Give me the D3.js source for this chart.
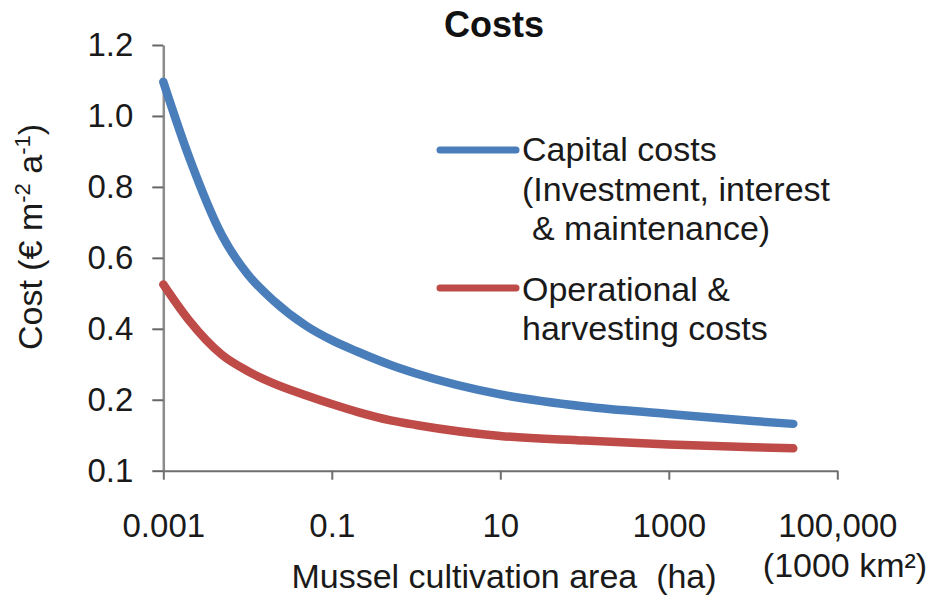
<!DOCTYPE html>
<html>
<head>
<meta charset="utf-8">
<script src="https://cdn.jsdelivr.net/npm/d3@7"></script>
<style>
  body { margin: 0; background: #fff; }
  svg { display: block; font-family: "Liberation Sans", Arial, sans-serif; }
</style>
</head>
<body>
<div class="container"></div>
<script>
var areas = [0.001, 0.002, 0.005, 0.01, 0.02, 0.05, 0.1, 0.2, 0.5, 1, 10, 100, 1000, 10000, 30000];
// cost (EUR m-2 a-1)
var capitalCosts = [1.096, 0.887, 0.662, 0.554, 0.481, 0.408, 0.368, 0.336, 0.298, 0.274, 0.215, 0.181, 0.160, 0.140, 0.132];
var operationalCosts = [0.525, 0.425, 0.326, 0.281, 0.247, 0.212, 0.188, 0.166, 0.142, 0.129, 0.098, 0.085, 0.074, 0.066, 0.063];

var xTicks = [0.001, 0.1, 10, 1000, 100000];
var xTickLabels = ["0.001", "0.1", "10", "1000", "100,000"];
var yTicks = [0, 0.2, 0.4, 0.6, 0.8, 1.0, 1.2];
var yTickLabels = ["0.1", "0.2", "0.4", "0.6", "0.8", "1.0", "1.2"];

var width = 932, height = 595;
var blue = "#4a7ebb", red = "#be4b48";

var svg = d3.select(".container")
  .append("svg")
    .attr("width", width)
    .attr("height", height);

var x = d3.scaleLog()
  .domain([0.001, 100000])
  .range([163.3, 837.3]);

var y = d3.scaleLinear()
  .domain([0, 1.2])
  .range([470.7, 45]);

// title
svg.append("text")
  .attr("x", 494)
  .attr("y", 37)
  .attr("text-anchor", "middle")
  .style("font-size", "36px")
  .style("font-weight", "bold")
  .attr("fill", "#111")
  .text("Costs");

// y axis
var yAxis = svg.append("g")
  .attr("transform", "translate(" + x(0.001) + ",0)")
  .call(d3.axisLeft(y)
    .tickValues(yTicks)
    .tickFormat(function(d, i) { return yTickLabels[i]; })
    .tickSize(11)
    .tickSizeOuter(0)
    .tickPadding(19));
yAxis.select(".domain").attr("stroke", "#8c8c8c").attr("stroke-width", 2.5);
yAxis.selectAll(".tick line").attr("stroke", "#666").attr("stroke-width", 2);
yAxis.selectAll(".tick text")
  .style("font-size", "33px")
  .attr("fill", "#1a1a1a");

// x axis
var xAxis = svg.append("g")
  .attr("transform", "translate(0," + y(0) + ")")
  .call(d3.axisBottom(x)
    .tickValues(xTicks)
    .tickFormat(function(d, i) { return xTickLabels[i]; })
    .tickSize(9)
    .tickSizeOuter(0)
    .tickPadding(34));
xAxis.select(".domain").attr("stroke", "#6e6e6e").attr("stroke-width", 2);
xAxis.selectAll(".tick line").attr("stroke", "#6e6e6e").attr("stroke-width", 2);
xAxis.selectAll(".tick text")
  .style("font-size", "33px")
  .attr("fill", "#1a1a1a");

// axis titles
svg.append("text")
  .attr("x", 504)
  .attr("y", 588)
  .attr("text-anchor", "middle")
  .style("font-size", "34px")
  .attr("fill", "#1a1a1a")
  .attr("xml:space", "preserve")
  .text("Mussel cultivation area  (ha)");

svg.append("text")
  .attr("x", 845)
  .attr("y", 577)
  .attr("text-anchor", "middle")
  .style("font-size", "34px")
  .attr("fill", "#1a1a1a")
  .text("(1000 km\u00b2)");

var yTitle = svg.append("text")
  .attr("transform", "translate(42,237) rotate(-90)")
  .attr("text-anchor", "middle")
  .style("font-size", "34px")
  .attr("fill", "#1a1a1a");
yTitle.append("tspan").text("Cost (\u20ac m");
yTitle.append("tspan").attr("dy", -12).style("font-size", "22px").text("-2");
yTitle.append("tspan").attr("dy", 12).text(" a");
yTitle.append("tspan").attr("dy", -12).style("font-size", "22px").text("-1");
yTitle.append("tspan").attr("dy", 12).text(")");

// curves
var line = d3.line()
  .x(function(d) { return x(d[0]); })
  .y(function(d) { return y(d[1]); })
  .curve(d3.curveMonotoneX);

[[capitalCosts, blue], [operationalCosts, red]].forEach(function(s) {
  svg.append("path")
    .datum(areas.map(function(a, i) { return [a, s[0][i]]; }))
    .attr("fill", "none")
    .attr("stroke", s[1])
    .attr("stroke-width", 8.5)
    .attr("stroke-linecap", "round")
    .attr("stroke-linejoin", "round")
    .attr("d", line);
});

// legend
var legend = [
  {color: blue, y: 150, lines: [["Capital costs", 0], ["(Investment, interest", 0], ["& maintenance)", 10]], baselines: [161, 201, 240]},
  {color: red, y: 288, lines: [["Operational &", 0], ["harvesting costs", 0]], baselines: [301, 340]}
];
legend.forEach(function(l) {
  svg.append("line")
    .attr("x1", 440).attr("x2", 516)
    .attr("y1", l.y).attr("y2", l.y)
    .attr("stroke", l.color)
    .attr("stroke-width", 7)
    .attr("stroke-linecap", "round");
  l.lines.forEach(function(t, i) {
    svg.append("text")
      .attr("x", 522 + t[1])
      .attr("y", l.baselines[i])
      .style("font-size", "34px")
      .attr("fill", "#1a1a1a")
      .text(t[0]);
  });
});
</script>
</body>
</html>
